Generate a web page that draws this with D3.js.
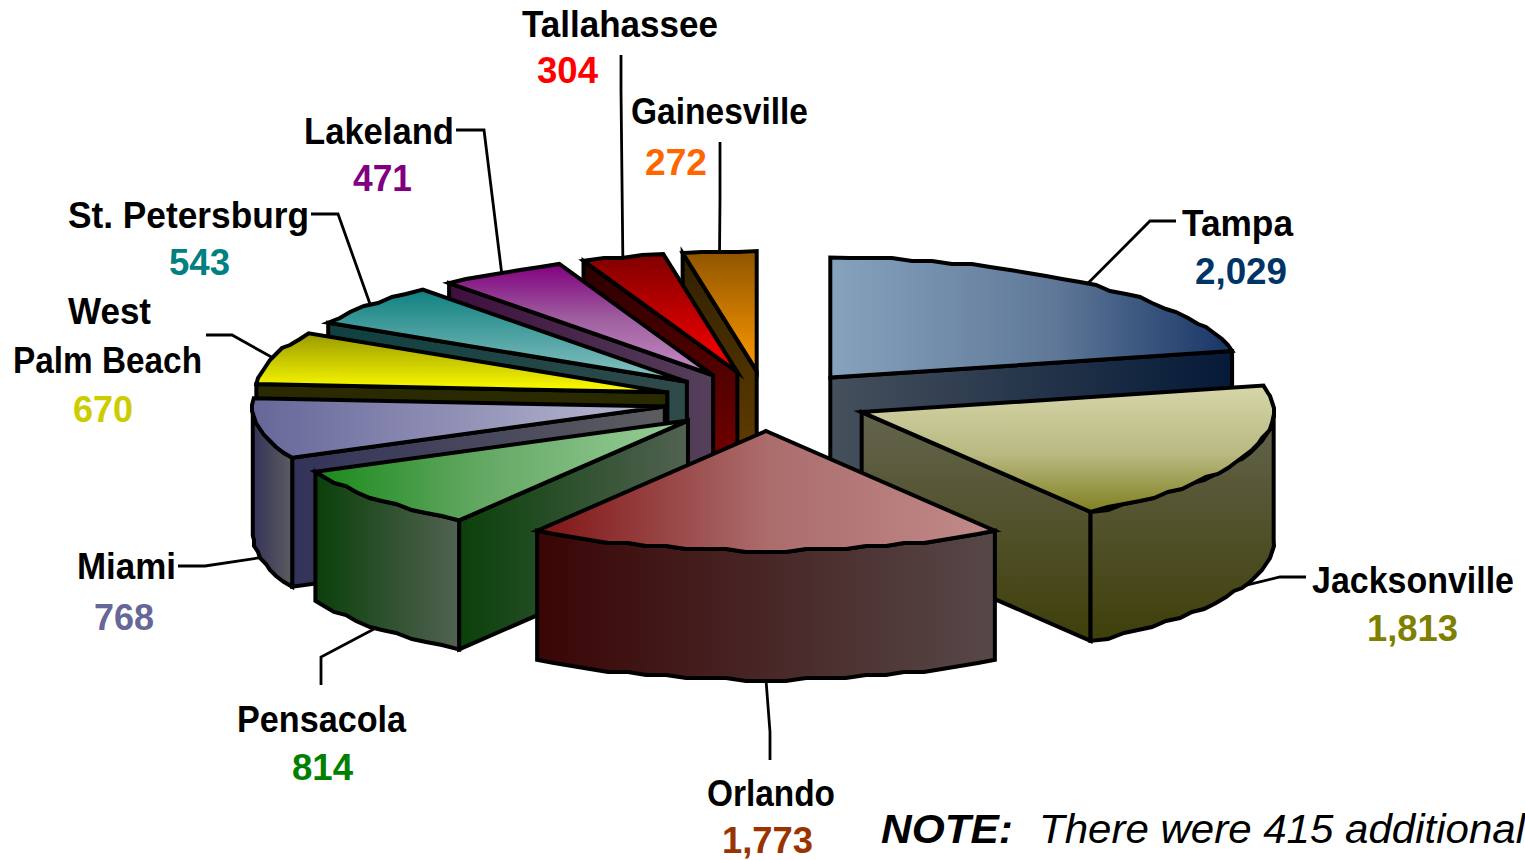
<!DOCTYPE html>
<html>
<head>
<meta charset="utf-8">
<script src="https://d3js.org/d3.v7.min.js"></script>
<style>
  html, body { margin: 0; background: #fff; overflow: hidden; }
  svg { display: block; font-family: "Liberation Sans", Arial, sans-serif; }
  .name, .count { font-weight: bold; font-size: 36px; }
  .edge { stroke: #000; stroke-width: 4; stroke-linejoin: miter; stroke-miterlimit: 6; }
  .leader { fill: none; stroke: #000; stroke-width: 2.8; }
  .note { font-size: 41px; font-style: italic; }
</style>
</head>
<body>
<svg id="chart" width="1525" height="860" viewBox="0 0 1525 860"></svg>
<script>
const cities = ["Tampa", "Jacksonville", "Orlando", "Pensacola", "Miami", "West Palm Beach", "St. Petersburg", "Lakeland", "Tallahassee", "Gainesville"];
const counts = [2029, 1813, 1773, 814, 768, 670, 543, 471, 304, 272];

// colours: label, top face and wall as [from, to, direction, middle stop, its offset]
const countColors = ["#003366", "#808000", "#993300", "#008000", "#666699", "#cccc00", "#008080", "#800080", "#ff0000", "#ff6600"];
const topFills = [
  ["#86a3bd", "#173566", "h", "#5f7898", 0.56], ["#d6d6aa", "#808020", "v", "#b8b880", 0.55], ["#801414", "#c28a8a", "h", "#ab6c6c", 0.5],
  ["#1a8a1a", "#9acf9a", "h", "#64a864", 0.45], ["#666699", "#bcbcd4", "h"], ["#999900", "#ffff00", "v"],
  ["#108080", "#8cc4c4", "v"], ["#800080", "#c48cc4", "v", "#a060a0", 0.5], ["#800000", "#ff0000", "v"], ["#8f5500", "#ff9900", "v"]
];
const wallFills = [
  ["#45505c", "#051a38", "h"], ["#64644e", "#3f3f0a", "v"], ["#3a0505", "#574848", "h"],
  ["#0a400a", "#526252", "h"], ["#33335a", "#5c5c60", "h"], ["#2a2a00", "#2a2a00", "h"],
  ["#0f4040", "#304a4a", "h"], ["#3d0f3d", "#55405a", "h"], ["#2a0000", "#800000", "v"], ["#2f2000", "#6b4200", "v"]
];

// text placement: [left, width, baseline]
const nameBoxes = [
  [[1182, 111, 236]], [[1312, 202, 593]], [[707, 128, 806]], [[237, 169, 732]], [[77, 99, 579]],
  [[68, 83, 324], [13, 189, 373]], [[68, 241, 228]], [[304, 150, 144]], [[522, 196, 37]], [[631, 177, 124]]
];
const nameLines = [["Tampa"], ["Jacksonville"], ["Orlando"], ["Pensacola"], ["Miami"], ["West", "Palm Beach"], ["St. Petersburg"], ["Lakeland"], ["Tallahassee"], ["Gainesville"]];
const countBoxes = [[1195, 92, 284], [1367, 91, 641], [722, 91, 853], [292, 61, 780], [94, 60, 630], [73, 60, 422], [169, 61, 275], [353, 59, 191], [537, 61, 83], [645, 62, 175]];
// leader start and elbow; the third point comes from the slice rim
const leaderStarts = [
  [[1176, 221], [1150, 221]], [[1306, 577], [1280, 577]], [[770, 760], [770, 732]], [[321, 685], [321, 657]], [[178, 566], [205, 566]],
  [[206, 335], [232, 335]], [[311, 214], [338, 214]], [[456, 130], [484, 130]], [[621, 55], [621, 90]], [[720, 142], [720, 200]]
];

const cx = 766, cy = 401, rx = 412, ry = 120, depth = 129, explode = 0.25;
const rimStep = 0.05, snapX = 2, snapY = 3;

const svg = d3.select("#chart");
const defs = svg.append("defs");

function addGradient(id, [from, to, dir, mid, midAt]) {
  const g = defs.append("linearGradient").attr("id", id)
    .attr("x1", 0).attr("y1", 0)
    .attr("x2", dir === "v" ? 0 : 1).attr("y2", dir === "h" ? 0 : 1);
  g.append("stop").attr("offset", 0).attr("stop-color", from);
  if (mid) g.append("stop").attr("offset", midAt).attr("stop-color", mid);
  g.append("stop").attr("offset", 1).attr("stop-color", to);
}
topFills.forEach((f, i) => addGradient(`top${i}`, f));
wallFills.forEach((f, i) => addGradient(`wall${i}`, f));

const arcs = d3.pie().sort(null).value((d) => d)(counts).map((a) => {
  const mid = (a.startAngle + a.endAngle) / 2;
  return {
    index: a.index, a0: a.startAngle, a1: a.endAngle, mid,
    ax: cx + explode * rx * Math.sin(mid),
    ay: cy - explode * ry * Math.cos(mid)
  };
});

const rim = (s, t) => [s.ax + rx * Math.sin(t), s.ay - ry * Math.cos(t)];

// The source picture's rim is a coarse metafile curve, so snap the samples
// to a grid but leave the two end points where they belong.
function rimPoints(s, a0, a1) {
  const n = Math.max(1, Math.round((a1 - a0) / rimStep));
  return d3.range(n + 1).map((i) => {
    const p = rim(s, a0 + (a1 - a0) * i / n);
    if (i === 0 || i === n) return p;
    return [Math.round(p[0] / snapX) * snapX, Math.round(p[1] / snapY) * snapY];
  });
}

const line = d3.line();
const closed = (pts) => line(pts) + "Z";
const drop = (p) => [p[0], p[1] + depth];

// back to front
const order = arcs.slice().sort((p, q) => Math.cos(q.mid) - Math.cos(p.mid));
const slices = svg.selectAll("g.slice").data(order).join("g").attr("class", "slice");

slices.each(function (s) {
  const g = d3.select(this);
  const apex = [s.ax, s.ay];
  const wallFill = `url(#wall${s.index})`;

  // radial walls: the one that faces the viewer depends on the side of the pie
  const wallAngles = [];
  if (Math.sin(s.a0) < -1e-6) wallAngles.push(s.a0);
  if (Math.sin(s.a1) > 1e-6) wallAngles.push(s.a1);
  for (const t of wallAngles) {
    const p = rim(s, t);
    g.append("path").attr("class", "edge").attr("fill", wallFill)
      .attr("d", closed([apex, p, drop(p), drop(apex)]));
  }

  // outer wall, front half of the rim only
  const o0 = Math.max(s.a0, Math.PI / 2), o1 = Math.min(s.a1, Math.PI * 1.5);
  if (o1 > o0) {
    const pts = rimPoints(s, o0, o1);
    g.append("path").attr("class", "edge").attr("fill", wallFill)
      .attr("d", closed(pts.concat(pts.slice().reverse().map(drop))));
  }

  g.append("path").attr("class", "edge").attr("fill", `url(#top${s.index})`)
    .attr("d", closed([apex].concat(rimPoints(s, s.a0, s.a1))));
});

// leaders run from the label to the middle of each slice's rim
svg.selectAll("path.leader").data(arcs).join("path").attr("class", "leader")
  .attr("d", (s) => {
    const p = rim(s, s.mid);
    return line(leaderStarts[s.index].concat([Math.cos(s.mid) < 0 ? drop(p) : p]));
  });

nameLines.forEach((lines, i) => {
  lines.forEach((txt, j) => {
    const [x, w, y] = nameBoxes[i][j];
    svg.append("text").attr("class", "name").attr("x", x).attr("y", y)
      .attr("textLength", w).attr("lengthAdjust", "spacingAndGlyphs").text(txt);
  });
});

svg.selectAll("text.count").data(counts).join("text").attr("class", "count")
  .attr("x", (d, i) => countBoxes[i][0]).attr("y", (d, i) => countBoxes[i][2])
  .attr("textLength", (d, i) => countBoxes[i][1]).attr("lengthAdjust", "spacingAndGlyphs")
  .attr("fill", (d, i) => countColors[i])
  .text(d3.format(","));

svg.append("text").attr("class", "note").attr("font-weight", "bold").attr("x", 881).attr("y", 843)
  .attr("textLength", 132).attr("lengthAdjust", "spacingAndGlyphs").text("NOTE:");
svg.append("text").attr("class", "note").attr("x", 1039).attr("y", 843)
  .attr("textLength", 486).attr("lengthAdjust", "spacingAndGlyphs").text("There were 415 additional");
</script>
</body>
</html>
